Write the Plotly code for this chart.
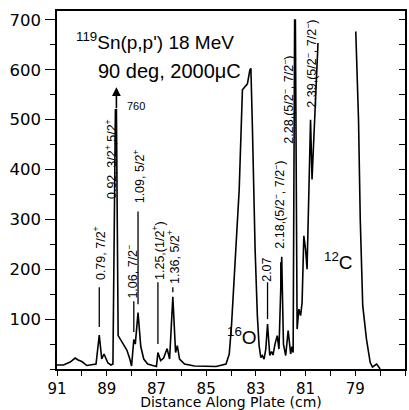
import plotly.graph_objects as go

# Proton spectrum along the focal-plane plate (counts per channel)
plate_cm = [91.00, 90.74, 90.47, 90.27, 90.15, 90.00, 89.80, 89.59, 89.43, 89.30,
            89.20, 89.11, 89.03, 88.95, 88.83, 88.75, 88.65, 88.61, 88.54, 88.35,
            88.19, 88.07, 88.00, 87.91, 87.85, 87.74, 87.63, 87.51, 87.35, 87.15,
            87.00, 86.94, 86.83, 86.71, 86.57, 86.47, 86.34, 86.23, 86.16, 86.07,
            85.87, 85.47, 85.00, 84.60, 84.20, 84.07, 83.98, 83.91, 83.80, 83.67,
            83.54, 83.47, 83.34, 83.24, 83.20, 83.14, 83.03, 82.94, 82.87, 82.80,
            82.74, 82.67, 82.60, 82.53, 82.44, 82.37, 82.31, 82.23, 82.14, 82.07,
            81.96, 81.89, 81.80, 81.70, 81.60, 81.55, 81.50, 81.44, 81.41, 81.34,
            81.27, 81.20, 81.14, 81.07, 81.00, 80.94, 80.80, 80.74, 80.50, 79.70,
            78.98, 78.87, 78.80, 78.70, 78.55, 78.40, 78.31, 78.14, 78.00]
counts = [8, 8, 14, 22, 18, 15, 7, 8, 10, 68,
          20, 30, 22, 12, 8, 10, 760, 760, 67, 52,
          38, 20, 6, 59, 50, 113, 45, 20, 10, 7,
          5, 33, 17, 22, 41, 20, 145, 33, 47, 20,
          10, 6, 5, 5, 10, 30, 87, 150, 240, 360,
          560, 565, 572, 600, 603, 487, 240, 107, 47, 23,
          27, 20, 40, 90, 27, 35, 28, 50, 67, 40,
          225, 50, 27, 77, 30, 45, 33, 700, 700, 80,
          120, 107, 133, 267, 240, 200, 500, 380, 654, None,
          677, 500, 300, 127, 60, 13, 4, 10, 0]

# The 0.92 MeV doublet is off scale: drawn clipped at this height,
# its true value is given next to the arrow
clip_level = 520
clip_window = (88.70, 88.56)
peak_092_value = 760

y_ticks = [100, 200, 300, 400, 500, 600, 700]
x_ticks = [91, 89, 87, 85, 83, 81, 79, 77]

# Level labels: text, text centre (x, y), leader line (x, y_top, y_bottom)
levels = [
    ("0.79, 7/2<sup>+</sup>", 89.28, 232, (89.30, 164, 84)),
    ("0.92, 3/2<sup>+</sup>,5/2<sup>+</sup>", 88.85, 422, None),
    ("1.06, 7/2<sup>\u2212</sup>", 87.97, 196, (87.91, 136, 74)),
    ("1.09, 5/2<sup>+</sup>", 87.71, 386, (87.74, 316, 130)),
    ("1.25,(1/2<sup>+</sup>)", 86.91, 238, (86.94, 174, 50)),
    ("1.36, 5/2<sup>+</sup>", 86.31, 224, (86.34, 164, 154)),
    ("2.07", 82.53, 198, (82.53, 174, 100)),
    ("2.18,(5/2<sup>\u2212</sup>, 7/2<sup>\u2212</sup>)", 82.06, 330, (82.00, 214, 150)),
    ("2.28,(5/2<sup>\u2212</sup>, 7/2<sup>\u2212</sup>)", 81.71, 540, None),
    ("2.39,(5/2<sup>\u2212</sup>, 7/2<sup>\u2212</sup>)", 80.79, 612, None),
]

drawn = []
for x, c in zip(plate_cm, counts):
    if c is not None and clip_window[1] <= x <= clip_window[0]:
        c = min(c, clip_level)
    drawn.append(c)

fig = go.Figure()
fig.add_trace(go.Scatter(x=plate_cm, y=drawn, mode="lines",
                         line=dict(color="black", width=1.6, shape="linear"),
                         connectgaps=False, hoverinfo="skip", showlegend=False))
# carrier trace for the right-hand tick axis
fig.add_trace(go.Scatter(x=[91], y=[0], yaxis="y2", mode="markers",
                         marker=dict(opacity=0), hoverinfo="skip", showlegend=False))

label_font = dict(family="Liberation Sans, Arial, sans-serif", size=12.5, color="black")
for text, tx, ty, leader in levels:
    fig.add_annotation(x=tx, y=ty, text=text, textangle=-90, showarrow=False,
                       xanchor="center", yanchor="middle", font=label_font)
    if leader is not None:
        lx, ytop, ybot = leader
        fig.add_shape(type="line", x0=lx, x1=lx, y0=ybot, y1=ytop,
                      line=dict(color="black", width=1.3))

# Arrow marking the off-scale 0.92 MeV doublet
fig.add_annotation(x=88.61, y=565, ax=88.61, ay=clip_level, axref="x", ayref="y",
                   text="", showarrow=True, arrowhead=2, arrowsize=1.1,
                   arrowwidth=1.6, arrowcolor="black")
fig.add_annotation(x=87.83, y=528, text=str(peak_092_value), showarrow=False,
                   font=dict(family="Liberation Sans, Arial, sans-serif", size=11, color="black"))

fig.add_annotation(x=87.05, y=658, text="<sup>119</sup>Sn(p,p') 18 MeV", showarrow=False,
                   font=dict(family="Liberation Sans, Arial, sans-serif", size=19, color="black"))
fig.add_annotation(x=86.47, y=598, text="90 deg, 2000\u03bcC", showarrow=False,
                   font=dict(family="Liberation Sans, Arial, sans-serif", size=20, color="black"))
fig.add_annotation(x=83.55, y=66, text="<sup>16</sup>O", showarrow=False,
                   font=dict(family="Liberation Sans, Arial, sans-serif", size=19, color="black"))
fig.add_annotation(x=79.67, y=216, text="<sup>12</sup>C", showarrow=False,
                   font=dict(family="Liberation Sans, Arial, sans-serif", size=19, color="black"))

tick_font = dict(family="DejaVu Sans, sans-serif", size=15, color="black")
fig.update_layout(
    width=409, height=410,
    margin=dict(l=57, r=2, t=11, b=40),
    paper_bgcolor="white", plot_bgcolor="white",
    xaxis=dict(range=[91, 77], tickvals=x_ticks, ticktext=[str(v) for v in x_ticks],
               ticks="outside", ticklen=5, tickwidth=1.3, tickcolor="black",
               minor=dict(dtick=1, tick0=77, ticks="outside", ticklen=5,
                          tickwidth=1.3, tickcolor="black"),
               showline=True, linecolor="black", linewidth=1.5, mirror=True,
               showgrid=False, zeroline=False, tickfont=tick_font, ticklabelstandoff=0,
               title=dict(text="Distance Along Plate (cm)", standoff=0,
                          font=dict(family="DejaVu Sans, sans-serif", size=14, color="black"))),
    yaxis=dict(range=[0, 718], tickvals=y_ticks, ticktext=[str(v) for v in y_ticks],
               ticks="outside", ticklen=10, tickwidth=1.3, tickcolor="black",
               minor=dict(dtick=50, tick0=0, ticks="outside", ticklen=5,
                          tickwidth=1.2, tickcolor="black"),
               showline=True, linecolor="black", linewidth=1.5, mirror=True,
               showgrid=False, zeroline=False,
               tickfont=dict(family="DejaVu Sans, sans-serif", size=16.5, color="black"),
               ticklabelstandoff=1),
    yaxis2=dict(range=[0, 718], overlaying="y", side="right", tickmode="linear",
                tick0=0, dtick=50, ticks="inside", ticklen=6, tickwidth=1.2,
                tickcolor="black", showticklabels=False, showgrid=False,
                zeroline=False, showline=False),
)

fig.write_html("out.html")
